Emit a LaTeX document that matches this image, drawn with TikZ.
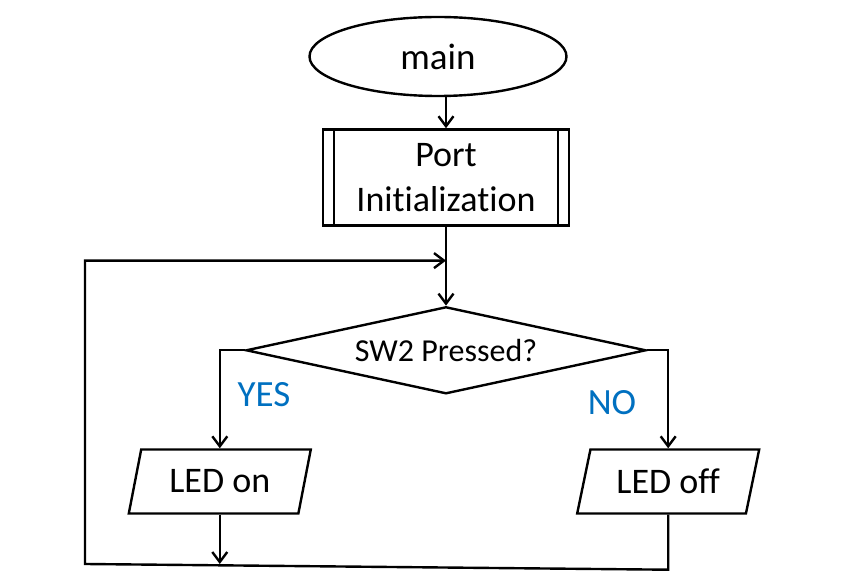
\documentclass[tikz,border=0pt]{standalone}
\usepackage{fontspec}
\setmainfont{Carlito}[Ligatures=NoCommon]
\definecolor{answer}{RGB}{0,112,192}
\usetikzlibrary{arrows.meta,positioning,shapes.geometric}

\begin{document}
\begin{tikzpicture}[x=1pt,y=1pt,
      box/.style={draw, line width=1.2pt, inner sep=0pt, align=center,
        font=\fontsize{18}{22.5}\selectfont},
      term/.style={box, ellipse, minimum width=128.5pt, minimum height=39.5pt,
        font=\fontsize{18.5}{22}\selectfont},
      proc/.style={box, rectangle, minimum width=123pt, minimum height=48pt},
      choice/.style={box, diamond, aspect=4.6, minimum width=200pt,
        minimum height=43.5pt, font=\fontsize{16}{19}\selectfont},
      io/.style={box, trapezium, trapezium left angle=62,
        trapezium right angle=118, trapezium stretches body,
        minimum width=91pt, minimum height=32pt},
      flow/.style={-{Straight Barb[length=5pt,width=7.5pt]}, line width=1.2pt},
      link/.style={line width=1.2pt},
      lbl/.style={font=\fontsize{18.5}{22}\selectfont\color{answer}},
    ]
    \useasboundingbox (0,0) rectangle (424,-294);

    \node[term] (main) at (219,-28.25) {main};
    \node[proc, below=15.5pt of main, xshift=4pt] (init) {Port\\Initialization};
    \node[choice, below=39.5pt of init] (dec) {SW2 Pressed?};
    \node[io, below=49pt of dec.west, xshift=-12.5pt] (ledon) {LED on};
    \node[io, below=49pt of dec.east, xshift=10.5pt] (ledoff) {LED off};

    \node[lbl] (yes) at (132,-197.5) {YES};
    \node[lbl] (no) at (306,-201.5) {NO};

    % predefined process bars
    \draw[link] ([xshift=6pt]init.north west) -- ([xshift=6pt]init.south west);
    \draw[link] ([xshift=-6pt]init.north east) -- ([xshift=-6pt]init.south east);

    \coordinate[below=17pt of init.south] (back);
    \coordinate[below=27.5pt of ledoff.south] (botr);
    \coordinate (botl) at (42.5,-282);

    \draw[flow] (main.south -| init.north) -- (init.north);
    \draw[flow] (init) -- (dec);
    \draw[flow] (dec.west) -| (ledon.north);
    \draw[flow] (dec.east) -| (ledoff.north);
    \draw[flow] (ledon.south) -- (ledon.south |- botl);
    \draw[flow] (ledoff.south) -- (botr) -- (botl) |- (back);
  \end{tikzpicture}
\end{document}
